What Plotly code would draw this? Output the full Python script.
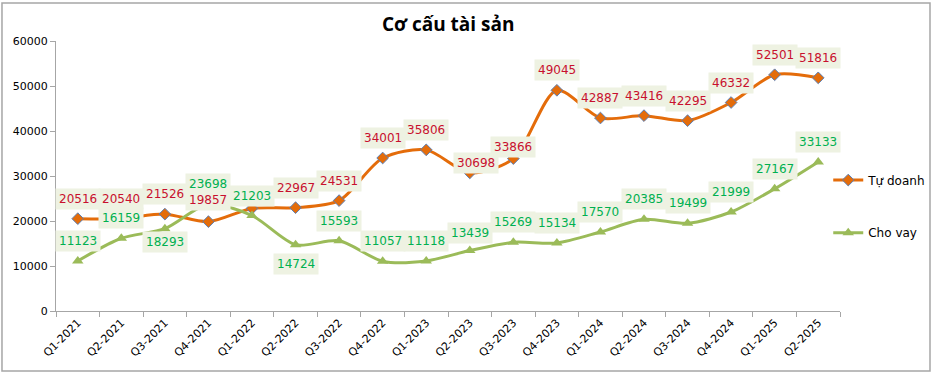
import plotly.graph_objects as go

quarters = ["Q1-2021", "Q2-2021", "Q3-2021", "Q4-2021", "Q1-2022", "Q2-2022", "Q3-2022",
            "Q4-2022", "Q1-2023", "Q2-2023", "Q3-2023", "Q4-2023", "Q1-2024", "Q2-2024",
            "Q3-2024", "Q4-2024", "Q1-2025", "Q2-2025"]
# Q1-2022 Tự doanh value label is hidden behind the Cho vay label
tu_doanh = [20516, 20540, 21526, 19857, 22800, 22967, 24531, 34001, 35806, 30698,
            33866, 49045, 42887, 43416, 42295, 46332, 52501, 51816]
cho_vay = [11123, 16159, 18293, 23698, 21203, 14724, 15593, 11057, 11118, 13439, 15269,
           15134, 17570, 20385, 19499, 21999, 27167, 33133]
td_label_shown = [True, True, True, True, False, True, True, True, True, True,
                  True, True, True, True, True, True, True, True]

# label placement (pixels): vertical shift for each data label
td_shift = [20, 20, 20, 22, 20, 20, 20, 20, 20, 10, 12, 20, 20, 20, 20, 20, 20, 20]
td_xshift = [0] * 18
td_xshift[9] = 6
cv_shift = [20, 20, -13, 20, 20, -19, 20, 20, 20, 18, 20, 20, 20, 20, 20, 20, 20, 20]

ORANGE = "#E46C0A"
GREEN = "#9BBB59"
RED_TXT = "#C8102E"
GREEN_TXT = "#00B050"
LABEL_BG = "#EEF2E2"

fig = go.Figure()
fig.add_trace(go.Scatter(
    x=quarters, y=tu_doanh, name="Tự doanh", mode="lines+markers",
    line=dict(color=ORANGE, width=3, shape="spline", smoothing=0.8),
    marker=dict(symbol="diamond", size=9, color=ORANGE, line=dict(color="#5B7FB5", width=1)),
    legend="legend", showlegend=True,
))
fig.add_trace(go.Scatter(
    x=quarters, y=cho_vay, name="Cho vay", mode="lines+markers",
    line=dict(color=GREEN, width=3, shape="spline", smoothing=0.8),
    marker=dict(symbol="triangle-up", size=10, color=GREEN),
    legend="legend2", showlegend=True,
))

annotations = []
for i, (q, v) in enumerate(zip(quarters, tu_doanh)):
    if not td_label_shown[i]:
        continue
    annotations.append(dict(x=q, y=v, xref="x", yref="y", text=str(v), showarrow=False,
                            yshift=td_shift[i], xshift=td_xshift[i],
                            font=dict(family="DejaVu Sans", size=12, color=RED_TXT),
                            bgcolor=LABEL_BG, borderpad=3))
for i, (q, v) in enumerate(zip(quarters, cho_vay)):
    annotations.append(dict(x=q, y=v, xref="x", yref="y", text=str(v), showarrow=False,
                            yshift=cv_shift[i],
                            font=dict(family="DejaVu Sans", size=12, color=GREEN_TXT),
                            bgcolor=LABEL_BG, borderpad=3))
annotations.append(dict(x=0.5, y=1.0, xref="paper", yref="paper", yanchor="bottom", yshift=2,
                        text="<b>Cơ cấu tài sản</b>", showarrow=False,
                        font=dict(family="Open Sans", size=19, color="#000000")))

fig.update_layout(
    width=933, height=376,
    margin=dict(l=56, r=93, t=41, b=65, autoexpand=False),
    paper_bgcolor="white", plot_bgcolor="white",
    hovermode=False,
    annotations=annotations,
    font=dict(family="DejaVu Sans", size=11, color="#000000"),
    legend=dict(x=0.985, y=0.485, xanchor="left", yanchor="middle",
                font=dict(family="DejaVu Sans", size=12), bgcolor="rgba(0,0,0,0)",
                itemwidth=30),
    legend2=dict(x=0.985, y=0.29, xanchor="left", yanchor="middle",
                 font=dict(family="DejaVu Sans", size=12), bgcolor="rgba(0,0,0,0)",
                 itemwidth=30),
    shapes=[dict(type="rect", xref="paper", yref="paper", x0=-0.0689, x1=1.1148,
                 y0=-0.222, y1=1.1407, line=dict(color="#A6A6A6", width=1.5))],
)
fig.update_xaxes(type="category", range=[-0.5, 17.5], tickangle=-45, showgrid=False,
                 showline=True, linecolor="#A6A6A6", linewidth=1, ticks="outside",
                 tickson="boundaries", ticklen=5, tickcolor="#A6A6A6", automargin=False,
                 tickfont=dict(family="DejaVu Sans", size=11))
fig.update_yaxes(range=[0, 60000], dtick=10000, tickformat="d", showgrid=False,
                 showline=True, automargin=False,
                 linecolor="#A6A6A6", linewidth=1, ticks="outside", ticklen=5,
                 tickcolor="#A6A6A6", zeroline=False,
                 tickfont=dict(family="DejaVu Sans", size=11))

fig.write_html("out.html", config={"displayModeBar": False},
               post_script="document.body.style.margin='0';")
